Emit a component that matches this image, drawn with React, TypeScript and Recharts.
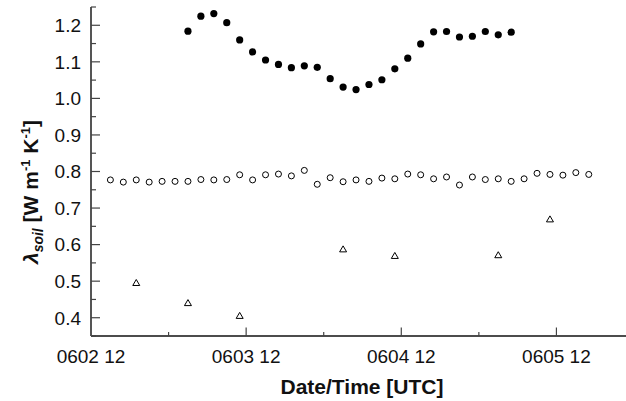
import React from "react";
import { ScatterChart, Scatter, XAxis, YAxis } from "recharts";

// hours since 0602 12 UTC
const filledHours = [15, 17, 19, 21, 23, 25, 27, 29, 31, 33, 35, 37, 39, 41, 43, 45, 47, 49, 51, 53, 55, 57, 59, 61, 63, 65];
const filledValues = [
  1.184, 1.225, 1.232, 1.207, 1.16, 1.127, 1.105, 1.093, 1.084, 1.089, 1.085, 1.054, 1.031,
  1.024, 1.038, 1.051, 1.081, 1.11, 1.149, 1.182, 1.183, 1.168, 1.17, 1.183, 1.174, 1.181,
];

const openHours = [
  3, 5, 7, 9, 11, 13, 15, 17, 19, 21, 23, 25, 27, 29, 31, 33, 35, 37, 39,
  41, 43, 45, 47, 49, 51, 53, 55, 57, 59, 61, 63, 65, 67, 69, 71, 73, 75, 77,
];
const openValues = [
  0.777, 0.771, 0.777, 0.771, 0.773, 0.773, 0.773, 0.778, 0.777, 0.778, 0.791, 0.777, 0.791,
  0.793, 0.788, 0.803, 0.765, 0.783, 0.772, 0.777, 0.773, 0.782, 0.78, 0.793, 0.791, 0.78,
  0.785, 0.763, 0.785, 0.778, 0.78, 0.773, 0.78, 0.795, 0.792, 0.79, 0.797, 0.792,
];

const triHours = [7, 15, 23, 39, 47, 63, 71];
const triValues = [0.495, 0.44, 0.405, 0.587, 0.569, 0.571, 0.669];

const xTicks = [0, 12, 24, 36, 48, 60, 72, 84];
const xMajorTicks = [0, 24, 48, 72];
const xTickLabels = ["0602 12", "0603 12", "0604 12", "0605 12"];

const yTicks = [0.35, 0.4, 0.45, 0.5, 0.55, 0.6, 0.65, 0.7, 0.75, 0.8, 0.85, 0.9, 0.95, 1.0, 1.05, 1.1, 1.15, 1.2, 1.25];
const yMajorTicks = [0.4, 0.5, 0.6, 0.7, 0.8, 0.9, 1.0, 1.1, 1.2];
const yTickLabels = ["0.4", "0.5", "0.6", "0.7", "0.8", "0.9", "1.0", "1.1", "1.2"];

const FONT = "'Liberation Sans', Arial, Helvetica, sans-serif";

const toPoints = (xs: number[], ys: number[]) => xs.map((x, i) => ({ x, y: ys[i] }));

const filledData = toPoints(filledHours, filledValues);
const openData = toPoints(openHours, openValues);
const triData = toPoints(triHours, triValues);

// eslint-disable-next-line @typescript-eslint/no-explicit-any
const XTick = ({ x, y, payload }: any) => {
  const i = xMajorTicks.indexOf(payload.value);
  const major = i >= 0;
  return (
    <g>
      {payload.value !== 0 && (
        <line x1={x} x2={x} y1={y} y2={y - (major ? 8.5 : 4)} stroke="#444" strokeWidth={1.2} />
      )}
      {major && (
        <text x={x} y={y + 27} textAnchor="middle" fontSize={19} fill="#111" fontFamily={FONT}>
          {xTickLabels[i]}
        </text>
      )}
    </g>
  );
};

// eslint-disable-next-line @typescript-eslint/no-explicit-any
const YTick = ({ x, y, payload }: any) => {
  const i = yMajorTicks.findIndex((v) => Math.abs(v - payload.value) < 1e-6);
  const major = i >= 0;
  return (
    <g>
      <line x1={x} x2={x + (major ? 9 : 5)} y1={y} y2={y} stroke="#444" strokeWidth={1.2} />
      {major && (
        <text x={x - 10} y={y + 6.8} textAnchor="end" fontSize={19} fill="#111" fontFamily={FONT}>
          {yTickLabels[i]}
        </text>
      )}
    </g>
  );
};

// eslint-disable-next-line @typescript-eslint/no-explicit-any
const FilledDot = ({ cx, cy }: any) => <circle cx={cx} cy={cy} r={3.6} fill="#000" />;
// eslint-disable-next-line @typescript-eslint/no-explicit-any
const OpenDot = ({ cx, cy }: any) => <circle cx={cx} cy={cy} r={3} fill="#fff" stroke="#000" strokeWidth={1} />;
// eslint-disable-next-line @typescript-eslint/no-explicit-any
const Triangle = ({ cx, cy }: any) => (
  <polygon
    points={`${cx - 3.5},${cy + 2.5} ${cx + 3.5},${cy + 2.5} ${cx},${cy - 3.5}`}
    fill="#fff"
    stroke="#000"
    strokeWidth={1}
  />
);

const YLabel = () => (
  <text
    transform="translate(38, 192) rotate(-90)"
    textAnchor="middle"
    fontSize={21}
    fontWeight="bold"
    fill="#111"
    fontFamily={FONT}
  >
    <tspan fontStyle="italic">λ</tspan>
    <tspan fontStyle="italic" fontSize={14} dy={5}>soil</tspan>
    <tspan dy={-5}> [W m</tspan>
    <tspan fontSize={13} dy={-8}>-1</tspan>
    <tspan dy={8}> K</tspan>
    <tspan fontSize={13} dy={-8}>-1</tspan>
    <tspan dy={8}>]</tspan>
  </text>
);

const XLabel = () => (
  <text x={362} y={394} textAnchor="middle" fontSize={21} fontWeight="bold" fill="#111" fontFamily={FONT}>
    Date/Time [UTC]
  </text>
);

export default function App() {
  return (
    <div style={{ position: "absolute", left: 0, top: 0, width: 626, height: 401, overflow: "hidden", background: "#fff" }}>
      <ScatterChart width={640} height={401} margin={{ top: 7, right: 6, bottom: 35, left: 0 }}>
        <XAxis
          type="number"
          dataKey="x"
          height={30}
          domain={[0, 84]}
          ticks={xTicks}
          interval={0}
          tick={<XTick />}
          tickLine={false}
          tickSize={0}
          tickMargin={0}
          axisLine={{ stroke: "#111", strokeWidth: 1.6 }}
          allowDataOverflow
          label={{ content: <XLabel /> }}
        />
        <YAxis
          type="number"
          dataKey="y"
          width={91}
          domain={[0.35, 1.25]}
          ticks={yTicks}
          interval={0}
          tick={<YTick />}
          tickLine={false}
          tickSize={0}
          tickMargin={0}
          axisLine={{ stroke: "#555", strokeWidth: 2 }}
          allowDataOverflow
          label={{ content: <YLabel /> }}
        />
        <Scatter data={openData} shape={<OpenDot />} isAnimationActive={false} />
        <Scatter data={triData} shape={<Triangle />} isAnimationActive={false} />
        <Scatter data={filledData} shape={<FilledDot />} isAnimationActive={false} />
      </ScatterChart>
    </div>
  );
}
